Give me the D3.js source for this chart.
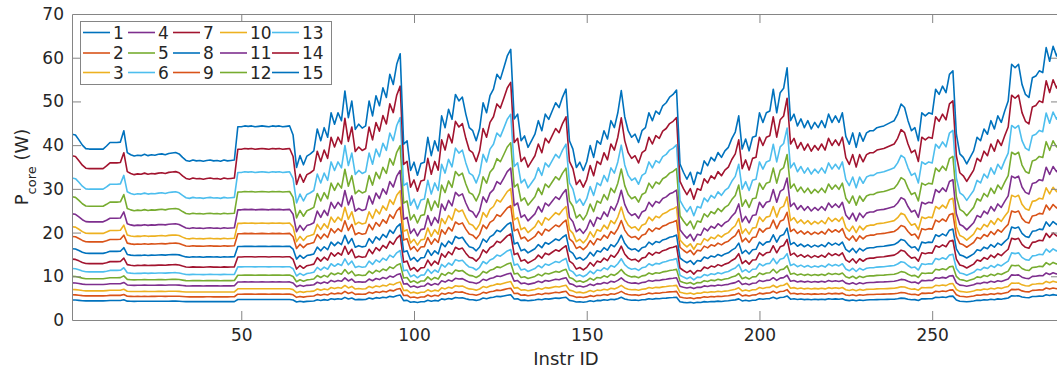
<!DOCTYPE html>
<html lang="en">
<head>
<meta charset="utf-8">
<title>Pcore per instruction</title>
<script src="https://cdn.jsdelivr.net/npm/d3@7"></script>
<style>
  body { margin: 0; background: #fff; }
  text { font-family: "DejaVu Sans", sans-serif; fill: #262626; }
</style>
</head>
<body>
<script>
// curve 15 (top line), Instr ID 1..287
var pTop = [
  42.5, 42.3, 41.2, 40.0, 39.2, 39.1, 39.1, 39.1, 39.1, 39.1,   // 1-10
  39.8, 40.6, 40.6, 40.6, 40.7, 43.3, 38.3, 37.8, 37.5, 37.7,   // 11-20
  37.6, 37.9, 37.6, 37.8, 37.7, 37.9, 38.0, 37.8, 38.1, 38.2,   // 21-30
  38.3, 38.0, 37.2, 36.5, 36.3, 36.6, 36.4, 36.5, 36.3, 36.5,   // 31-40
  36.6, 36.4, 36.5, 36.3, 36.6, 36.4, 36.5, 36.6, 44.2, 44.2,   // 41-50
  44.4, 44.3, 44.4, 44.2, 44.3, 44.4, 44.3, 44.2, 44.4, 44.3,   // 51-60
  44.4, 44.2, 44.3, 44.4, 42.3, 34.9, 37.6, 35.5, 37.5, 38.0,   // 61-70
  38.7, 43.7, 41.0, 44.0, 41.8, 47.4, 44.8, 47.4, 45.6, 52.4,   // 71-80
  46.3, 50.1, 43.6, 44.8, 43.9, 44.4, 50.1, 46.7, 51.3, 49.0,   // 81-90
  53.1, 50.9, 56.2, 53.9, 58.5, 60.9, 40.2, 41.0, 34.2, 36.1,   // 91-100
  33.1, 35.8, 36.1, 41.8, 37.6, 41.0, 38.7, 46.7, 44.0, 48.2,   // 101-110
  45.9, 51.6, 50.1, 51.0, 47.1, 44.0, 43.3, 41.0, 43.8, 49.7,   // 111-120
  47.4, 51.3, 52.8, 56.2, 55.1, 57.7, 60.4, 61.9, 46.0, 47.1,   // 121-130
  41.0, 42.1, 39.5, 41.0, 42.5, 45.6, 43.3, 47.1, 45.9, 47.8,   // 131-140
  49.7, 48.6, 51.0, 52.8, 41.0, 39.1, 34.9, 36.1, 34.2, 36.2,   // 141-150
  39.9, 37.2, 41.0, 40.2, 43.3, 41.4, 45.6, 44.0, 47.4, 52.5,   // 151-160
  46.5, 43.3, 41.8, 42.5, 40.6, 43.3, 44.0, 47.4, 45.6, 47.8,   // 161-170
  47.1, 49.0, 49.7, 51.0, 51.6, 52.6, 35.7, 33.8, 32.2, 33.8,   // 171-180
  31.0, 33.8, 33.4, 36.4, 35.3, 37.2, 36.4, 38.3, 37.2, 38.7,   // 181-190
  39.5, 41.5, 43.0, 46.7, 39.1, 41.4, 38.7, 41.8, 42.1, 47.4,   // 191-200
  45.2, 47.4, 47.8, 52.8, 47.4, 52.0, 53.0, 57.7, 45.6, 47.1,   // 201-210
  44.4, 46.0, 44.0, 45.6, 43.7, 45.2, 44.0, 45.6, 44.0, 47.1,   // 211-220
  45.2, 46.7, 45.2, 47.4, 42.0, 40.2, 42.8, 39.5, 42.8, 40.9,   // 221-230
  42.8, 43.3, 43.3, 44.0, 44.2, 44.4, 44.8, 45.2, 45.6, 47.1,   // 231-240
  49.4, 48.6, 45.6, 43.3, 44.0, 41.0, 47.4, 46.7, 47.4, 47.1,   // 241-250
  52.8, 51.6, 53.5, 52.0, 56.2, 57.0, 42.5, 38.0, 37.2, 35.7,   // 251-260
  37.2, 38.7, 41.8, 41.0, 43.7, 42.5, 45.6, 43.7, 46.7, 45.2,   // 261-270
  47.8, 50.1, 58.5, 57.7, 58.5, 53.9, 51.6, 50.9, 55.4, 55.8,   // 271-280
  57.0, 56.6, 62.3, 59.2, 62.6, 60.4, 62.3                      // 281-287
];

// series names (legend)
var seriesNames = ["1","2","3","4","5","6","7","8","9","10","11","12","13","14","15"];
// every curve read at two reference points: flat stretch (Instr 40) and first peak (Instr 96)
var levelAt40 = [4.2, 5.3, 6.4, 7.8, 9.0, 10.4, 12.1, 14.4, 16.9, 18.6, 21.0, 24.3, 27.9, 32.3, 36.4];
var levelAt96 = [5.7, 7.2, 8.7, 10.6, 12.9, 15.9, 19.4, 22.0, 25.8, 29.6, 34.2, 39.9, 46.3, 53.5, 60.9];

var xTicks = [50, 100, 150, 200, 250];
var yTicks = [0, 10, 20, 30, 40, 50, 60, 70];

var colors = ["#0072BD", "#D95319", "#EDB120", "#7E2F8E", "#77AC30", "#4DBEEE", "#A2142F"];

var w = 1057, h = 370;
var mLeft = 72, mRight = 1060, mTop = 14, mBottom = 320;

var svg = d3.select("body").append("svg")
  .attr("width", w)
  .attr("height", h);

var x = d3.scaleLinear().domain([1, pTop.length]).range([mLeft, mRight]);
var y = d3.scaleLinear().domain([0, 70]).range([mBottom, mTop]);

// each curve follows the top curve between its two read levels
var ref0 = levelAt40[14], ref1 = levelAt96[14];
var series = seriesNames.map(function(name, k) {
  var vals = pTop.map(function(v, i) {
    var t = (v - ref0) / (ref1 - ref0);
    return { id: i + 1, p: levelAt40[k] + t * (levelAt96[k] - levelAt40[k]) };
  });
  return { name: name, color: colors[k % 7], values: vals };
});

svg.append("defs").append("clipPath").attr("id", "plotclip")
  .append("rect")
  .attr("x", mLeft).attr("y", mTop)
  .attr("width", mRight - mLeft).attr("height", mBottom - mTop);

var line = d3.line()
  .x(function(d) { return x(d.id); })
  .y(function(d) { return y(d.p); });

svg.append("g").attr("clip-path", "url(#plotclip)")
  .selectAll("path")
  .data(series)
  .enter()
  .append("path")
  .attr("d", function(d) { return line(d.values); })
  .attr("fill", "none")
  .attr("stroke", function(d) { return d.color; })
  .attr("stroke-width", 1.6)
  .attr("stroke-linejoin", "round");

// axes, matlab style (ticks inside, box)
var axisColor = "#858585";

var gx = svg.append("g")
  .attr("transform", "translate(0," + mBottom + ")")
  .call(d3.axisBottom(x).tickValues(xTicks).tickSize(-9).tickSizeOuter(0).tickPadding(9));

var gxTop = svg.append("g")
  .attr("transform", "translate(0," + mTop + ")")
  .call(d3.axisTop(x).tickValues(xTicks).tickSize(-9).tickSizeOuter(0).tickFormat(""));

var gy = svg.append("g")
  .attr("transform", "translate(" + mLeft + ",0)")
  .call(d3.axisLeft(y).tickValues(yTicks).tickSize(-9).tickSizeOuter(0).tickPadding(8));

var gyRight = svg.append("g")
  .attr("transform", "translate(" + mRight + ",0)")
  .call(d3.axisRight(y).tickValues(yTicks).tickSize(-9).tickSizeOuter(0).tickFormat(""));

[gx, gxTop, gy, gyRight].forEach(function(g) {
  g.selectAll("path, line").attr("stroke", axisColor);
  g.selectAll("text")
    .style("font-family", "DejaVu Sans, sans-serif")
    .style("font-size", "17px")
    .attr("fill", "#262626");
});
// hide the 0/70 inner ticks overlapping the box
gy.selectAll(".tick line").filter(function(d) { return d === 0 || d === 70; }).remove();

// axis labels
svg.append("text")
  .attr("x", (mLeft + mRight) / 2)
  .attr("y", 365)
  .attr("text-anchor", "middle")
  .style("font-size", "18px")
  .text("Instr ID");

var yl = svg.append("text")
  .attr("transform", "translate(28," + ((mTop + mBottom) / 2) + ") rotate(-90)")
  .attr("text-anchor", "middle")
  .style("font-size", "18px");
yl.append("tspan").text("P");
yl.append("tspan").attr("baseline-shift", "sub").style("font-size", "13px").text("core");
yl.append("tspan").text(" (W)");

// legend, 5 columns x 3 rows, filled column by column
var legend = svg.append("g");
legend.append("rect")
  .attr("x", 80.5).attr("y", 21.5)
  .attr("width", 251).attr("height", 63)
  .attr("fill", "#fff")
  .attr("stroke", axisColor);

var colX = [83, 128, 173, 220, 272];
var rowY = [32.5, 53, 72.5];

var items = legend.selectAll("g.item")
  .data(series)
  .enter()
  .append("g")
  .attr("class", "item")
  .attr("transform", function(d, i) {
    return "translate(" + colX[Math.floor(i / 3)] + "," + rowY[i % 3] + ")";
  });

items.append("line")
  .attr("x1", 0).attr("x2", 27)
  .attr("y1", 0).attr("y2", 0)
  .attr("stroke", function(d) { return d.color; })
  .attr("stroke-width", 1.6);

items.append("text")
  .attr("x", 30)
  .attr("y", 6)
  .style("font-size", "17px")
  .text(function(d) { return d.name; });
</script>
</body>
</html>
